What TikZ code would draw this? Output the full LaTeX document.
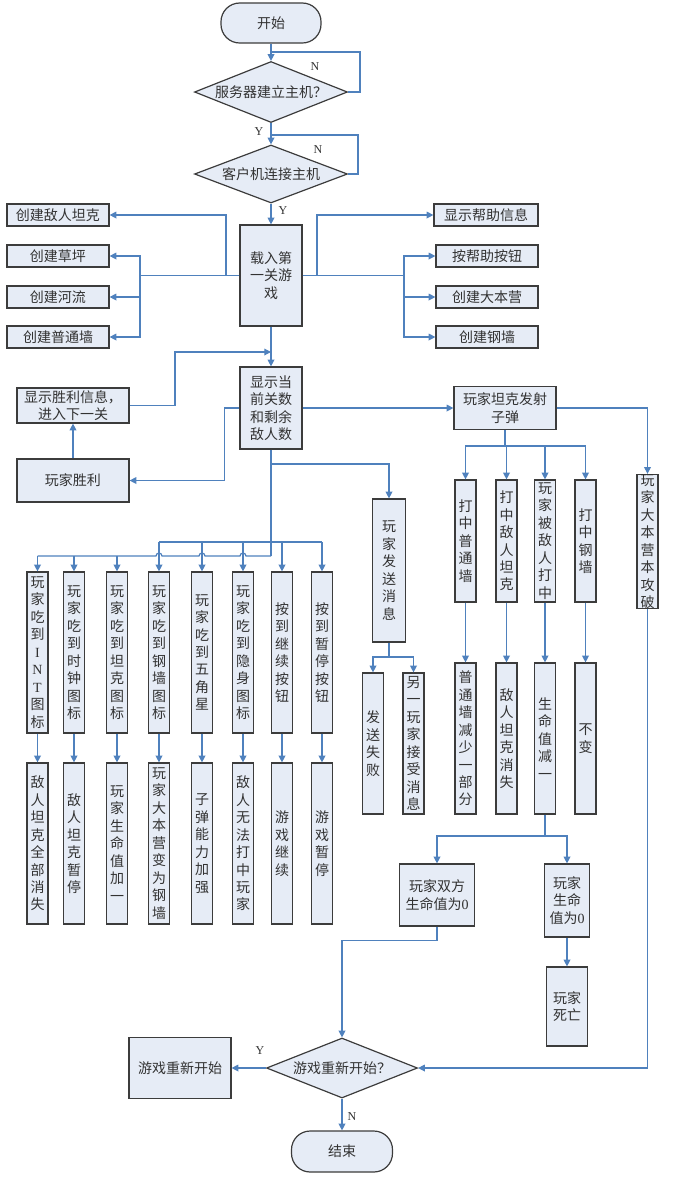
\documentclass[tikz,border=0pt]{standalone}
\usepackage{fontspec}
\setmainfont{Noto Sans CJK SC}
\newfontfamily\latinfont{Liberation Serif}
\usetikzlibrary{arrows.meta,shapes.geometric}
\definecolor{boxfill}{RGB}{230,236,246}
\definecolor{boxline}{RGB}{60,60,60}
\definecolor{flowline}{RGB}{79,129,189}
\definecolor{boxtext}{RGB}{50,50,50}
\tikzset{
  box/.style={draw=boxline,fill=boxfill,line width=0.9pt,inner sep=0pt,align=center,
    text=boxtext,font=\fontsize{10.5pt}{13.1pt}\selectfont},
  termbox/.style={box,rounded corners=14pt},
  decbox/.style={box,diamond,shape aspect=2.5},
  vbox/.style={box,minimum width=15.75pt},
  line/.style={draw=flowline,line width=0.9pt},
  flow/.style={line,-{Triangle[length=5pt,width=5pt]}},
  yn/.style={font=\latinfont\fontsize{9pt}{10pt}\selectfont,text=boxtext,inner sep=0pt}
}

\begin{document}
\begin{tikzpicture}[x=0.75pt,y=-0.75pt]
  \useasboundingbox (0,0) rectangle (686,1183);
  % start, server and client
  \node[termbox,minimum width=75pt,minimum height=30pt] (start) at (271,23) {开始};
  \node[decbox,minimum width=114.75pt,minimum height=45.75pt] (srv) at (271,92) {服务器建立主机？};
  \node[decbox,minimum width=114.75pt,minimum height=43.5pt] (cli) at (271,174) {客户机连接主机};
  \node[box,minimum width=46.5pt,minimum height=75.75pt] (load) at (271,275.5) {载入第\\一关游\\戏};
  \coordinate (srvloop) at (360,52);
  \coordinate (cliloop) at (358,135);
  \draw[flow] (start) -- (srv);
  \draw[line] (srv.east) -| (srvloop) -- (srvloop -| start);
  \draw[flow] (srv) -- (cli);
  \draw[line] (cli.east) -| (cliloop) -- (cliloop -| srv);
  \draw[flow] (cli) -- (load);
  \node[yn] (srvno) at (315,67) {N};
  \node[yn] (srvyes) at (259,132) {Y};
  \node[yn] (clino) at (318,150) {N};
  \node[yn] (cliyes) at (283,211) {Y};
  % level setup
  \foreach \nm/\yy/\txt in {cjdr/215/创建敌人坦克,cjcp/256/创建草坪,cjhl/297/创建河流,cjpt/337/创建普通墙}
    \node[box,minimum width=76.5pt,minimum height=16.5pt] (\nm) at (58,\yy) {\txt};
  \node[box,minimum width=78pt,minimum height=16.5pt] (xsbz) at (486,215) {显示帮助信息};
  \foreach \nm/\yy/\txt in {abzan/256/按帮助按钮,cjdby/297/创建大本营,cjgq/337/创建钢墙}
    \node[box,minimum width=76.5pt,minimum height=16.5pt] (\nm) at (487,\yy) {\txt};
  \coordinate (lsplit) at (140,275.5);
  \coordinate (lsplit2) at (226,275.5);
  \coordinate (rsplit) at (404,275.5);
  \coordinate (rsplit2) at (317,275.5);
  \draw[line] (load.west) -- (lsplit);
  \draw[line] (load.east) -- (rsplit);
  \foreach \nm in {cjcp,cjhl,cjpt} \draw[flow] (lsplit) |- (\nm);
  \foreach \nm in {abzan,cjdby,cjgq} \draw[flow] (rsplit) |- (\nm);
  \draw[flow] (lsplit2) |- (cjdr);
  \draw[flow] (rsplit2) |- (xsbz);
  % level display
  \node[box,minimum width=46.5pt,minimum height=61.5pt] (disp) at (271,408) {显示当\\前关数\\和剩余\\敌人数};
  \node[box,minimum width=84pt,minimum height=26.25pt] (win) at (73,405.5) {显示胜利信息，\\进入下一关};
  \node[box,minimum width=84pt,minimum height=32.25pt] (pw) at (73,480.5) {玩家胜利};
  \coordinate (winbend) at (175,352);
  \coordinate (winjoin) at (271,352);
  \draw[flow] (load) -- (disp);
  \draw[flow] (win.east) -| (winbend) -- (winjoin);
  \draw[flow] (pw) -- (win);
  \draw[flow] (disp.west) -- ++(-15,0) |- (pw);
  % firing
  \node[box,minimum width=76.5pt,minimum height=32.25pt] (fire) at (505,408) {玩家坦克发射\\子弹};
  \node[vbox,minimum height=99.75pt] (jdp) at (647.5,541.5) {玩\\家\\大\\本\\营\\本\\攻\\破};
  \coordinate (firebus) at (505,446);
  \draw[flow] (disp) -- (fire);
  \draw[flow] (fire) -| (jdp);
  \draw[line] (fire) -- (firebus);
  \foreach \nm/\xx/\up/\dn in {%
      dzpt/465.5/{打\\中\\普\\通\\墙}/{普\\通\\墙\\减\\少\\一\\部\\分},
      dzdr/506.5/{打\\中\\敌\\人\\坦\\克}/{敌\\人\\坦\\克\\消\\失},
      bdz/545/{玩\\家\\被\\敌\\人\\打\\中}/{生\\命\\值\\减\\一},
      dzgq/585.5/{打\\中\\钢\\墙}/{不\\变}}{
    \node[vbox,minimum height=91.5pt] (hit\nm) at (\xx,541) {\up};
    \node[vbox,minimum height=113.25pt] (res\nm) at (\xx,738.5) {\dn};
    \draw[flow] (firebus) -| (hit\nm);
    \draw[flow] (hit\nm) -- (res\nm);
  }
  % messages
  \node[box,minimum width=24.75pt,minimum height=107.25pt] (fsxx) at (389,570.5) {玩\\家\\发\\送\\消\\息};
  \node[vbox,minimum height=105.75pt] (fssb) at (373,743.5) {发\\送\\失\\败};
  \node[vbox,minimum height=105.75pt] (jsxx) at (413.5,743.5) {另\\一\\玩\\家\\接\\受\\消\\息};
  \coordinate (msgjoin) at (271,464);
  \coordinate (msgbus) at (389,657);
  \draw[flow] (msgjoin) -| (fsxx);
  \draw[line] (fsxx) -- (msgbus);
  \draw[flow] (msgbus) -| (fssb);
  \draw[flow] (msgbus) -| (jsxx);
  % items and buttons
  \coordinate (trunkend) at (271,556);
  \coordinate (lbl) at (37.5,556);
  \coordinate (ubl) at (159,542);
  \coordinate (ubr) at (322,542);
  \draw[line] (disp) -- (trunkend);
  \draw[line] (ubl) -- (ubr);
  \draw[line] (trunkend) -- (246,556) arc[start angle=0,end angle=180,radius=2.25pt]
    -- (205,556) arc[start angle=0,end angle=180,radius=2.25pt]
    -- (162,556) arc[start angle=0,end angle=180,radius=2.25pt] -- (lbl);
  \foreach \cname/\cx/\bus/\uptext/\dntext in {%
      int/37.5/lbl/{玩\\家\\吃\\到\\{\latinfont I}\\{\latinfont N}\\{\latinfont T}\\图\\标}/{敌\\人\\坦\\克\\全\\部\\消\\失},
      sz/74/lbl/{玩\\家\\吃\\到\\时\\钟\\图\\标}/{敌\\人\\坦\\克\\暂\\停},
      tk/117/lbl/{玩\\家\\吃\\到\\坦\\克\\图\\标}/{玩\\家\\生\\命\\值\\加\\一},
      gq/159/ubl/{玩\\家\\吃\\到\\钢\\墙\\图\\标}/{玩\\家\\大\\本\\营\\变\\为\\钢\\墙},
      wjx/202/ubl/{玩\\家\\吃\\到\\五\\角\\星}/{子\\弹\\能\\力\\加\\强},
      ys/243/ubl/{玩\\家\\吃\\到\\隐\\身\\图\\标}/{敌\\人\\无\\法\\打\\中\\玩\\家},
      jx/282/ubl/{按\\到\\继\\续\\按\\钮}/{游\\戏\\继\\续},
      zt/322/ubl/{按\\到\\暂\\停\\按\\钮}/{游\\戏\\暂\\停}}{
    \node[vbox,minimum height=120.75pt] (up\cname) at (\cx,652.5) {\uptext};
    \node[vbox,minimum height=120.75pt] (dn\cname) at (\cx,843.5) {\dntext};
    \draw[flow] (\bus -| up\cname) -- (up\cname);
    \draw[flow] (up\cname) -- (dn\cname);
  }
  % life and restart
  \node[box,minimum width=56.6pt,minimum height=46.5pt] (both0) at (437,895) {玩家双方\\生命值为{\latinfont 0}};
  \node[box,minimum width=33.75pt,minimum height=54.75pt] (self0) at (567,900.5) {玩家\\生命\\值为{\latinfont 0}};
  \node[box,minimum width=30.75pt,minimum height=59.25pt] (dead) at (567,1006.5) {玩家\\死亡};
  \node[decbox,minimum width=113.25pt,minimum height=45pt] (again) at (342,1068) {游戏重新开始？};
  \node[box,minimum width=76.5pt,minimum height=45.75pt] (restart) at (180,1068) {游戏重新开始};
  \node[termbox,minimum width=75.75pt,minimum height=30.75pt] (stop) at (342,1151.5) {结束};
  \coordinate (lifebus) at (545,836);
  \draw[line] (resbdz) -- (lifebus);
  \draw[flow] (lifebus) -| (both0);
  \draw[flow] (lifebus) -| (self0);
  \draw[flow] (self0) -- (dead);
  \draw[flow] (both0.south) -- ++(0,14) -| (again);
  \draw[flow] (jdp) |- (again);
  \draw[flow] (again) -- (restart);
  \draw[flow] (again) -- (stop);
  \node[yn] (againyes) at (260,1051) {Y};
  \node[yn] (againno) at (352,1117) {N};
\end{tikzpicture}
\end{document}
